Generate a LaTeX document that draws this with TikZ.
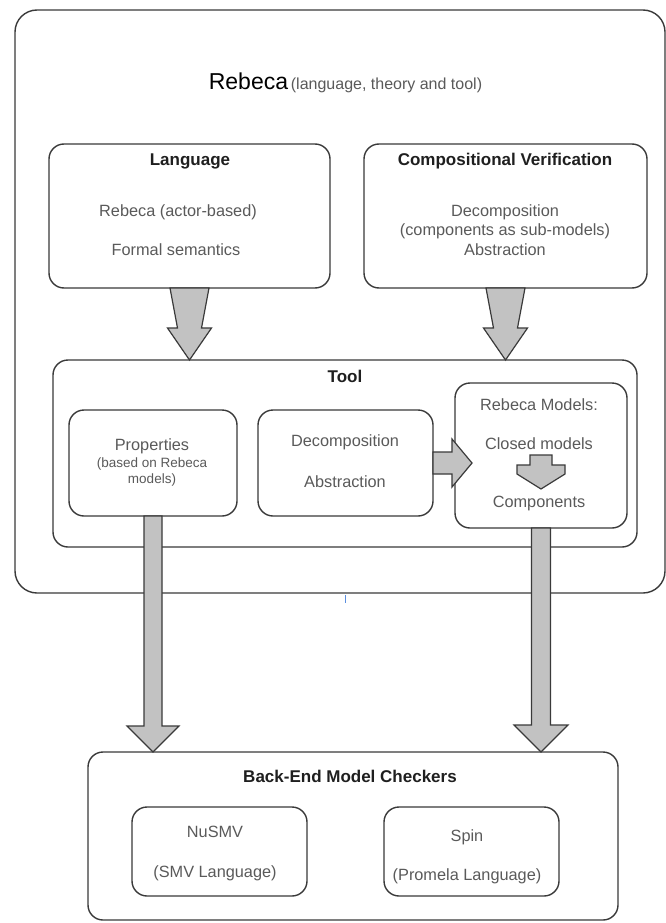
\documentclass[tikz,border=0pt]{standalone}
\usepackage{fontspec}
\setmainfont{Liberation Sans}
\usetikzlibrary{calc}
\definecolor{edge}{HTML}{3A3A3A}
\definecolor{txtgray}{HTML}{5A5A5A}
\definecolor{arrowfill}{HTML}{C2C2C2}
\definecolor{tickblue}{HTML}{5B8FE0}

\begin{document}
\begin{tikzpicture}[x=1pt,y=-1pt,
  panel/.style={draw=edge, line width=1.4pt, rounded corners=15pt, fill=white,
    inner sep=0pt, outer sep=0pt},
  heading/.style={font=\fontsize{17}{20}\selectfont\bfseries, text=black!88},
  body/.style={font=\fontsize{16.3}{19}\selectfont, text=txtgray, inner sep=0pt},
  small/.style={font=\fontsize{13.5}{16}\selectfont, text=txtgray, inner sep=0pt},
  blk/.style={draw=edge, line width=1.2pt, fill=arrowfill, line join=miter}]

\useasboundingbox (0,0) rectangle (666,923);

% outer frame and title
\node[panel, rounded corners=22pt, minimum width=650pt, minimum height=583pt] (rebeca) at (340,301.5) {};
\node (title) at (345.5,83) {{\fontsize{23}{26}\selectfont Rebeca} {\fontsize{16}{19}\selectfont\color{txtgray}(language, theory and tool)}};

% language and compositional verification
\node[panel, minimum width=281pt, minimum height=144pt] (lang) at (189.5,216) {};
\node[heading] (langT) at (190,161) {Language};
\node[body] (langA) at (178,212) {Rebeca (actor-based)};
\node[body] (langB) at (176,250) {Formal semantics};

\node[panel, minimum width=283pt, minimum height=144pt] (comp) at (505.5,216) {};
\node[heading] (compT) at (505,161) {Compositional Verification};
\node[body] (compA) at (505,212) {Decomposition};
\node[body] (compB) at (505,231) {(components as sub-models)};
\node[body] (compC) at (505,250) {Abstraction};

% tool
\node[panel, minimum width=584pt, minimum height=187pt] (tool) at (345,453.5) {};
\node[heading] (toolT) at (345,376) {Tool};

\node[panel, minimum width=168pt, minimum height=106pt] (props) at (153,463) {};
\node[body] (propsA) at (152,446) {Properties};
\node[small] (propsB) at (152,464) {(based on Rebeca};
\node[small] (propsC) at (152,480) {models)};

\node[panel, minimum width=175pt, minimum height=106pt] (decomp) at (345.5,463) {};
\node[body] (decompA) at (345,442) {Decomposition};
\node[body] (decompB) at (345,482) {Abstraction};

\node[panel, minimum width=172pt, minimum height=145pt] (rm) at (541,455.5) {};
\node[body] (rmA) at (539,405) {Rebeca Models:};
\node[body] (closed) at (539,444) {Closed models};
\node[body] (comps) at (539,503) {Components};

% back-end model checkers
\node[panel, minimum width=530pt, minimum height=168pt] (back) at (353,836) {};
\node[heading] (backT) at (350,776) {Back-End Model Checkers};

\node[panel, minimum width=175pt, minimum height=89pt] (nusmv) at (219.5,851.5) {};
\node[body] (nusmvA) at (215,832) {NuSMV};
\node[body] (nusmvB) at (215,873) {(SMV Language)};

\node[panel, minimum width=175pt, minimum height=89pt] (spin) at (471.5,851.5) {};
\node[body] (spinA) at (467,837) {Spin};
\node[body] (spinB) at (467,876) {(Promela Language)};

% block arrows
\draw[blk] ($(lang.south)+(-19.5,0)$) -- ++(39,0) -- ++(-7.5,40) -- ++(10,0)
  -- ++(-22,32) -- ++(-22,-32) -- ++(10,0) -- cycle;
\draw[blk] ($(comp.south)+(-19.5,0)$) -- ++(39,0) -- ++(-7.5,40) -- ++(10,0)
  -- ++(-22,32) -- ++(-22,-32) -- ++(10,0) -- cycle;

\draw[blk] ($(decomp.east)+(0,-11)$) -- ++(19,0) -- ++(0,-13) -- ++(20,24)
  -- ++(-20,24) -- ++(0,-13) -- ++(-19,0) -- cycle;

\coordinate (flow) at (541,455);
\draw[blk] ($(flow)+(-11,0)$) -- ++(22,0) -- ++(0,10) -- ++(13,0) -- ++(0,9)
  -- ++(-24,15) -- ++(-24,-15) -- ++(0,-9) -- ++(13,0) -- cycle;

\draw[blk] ($(props.south)+(-9,0)$) -- ++(18,0) -- ++(0,210) -- ++(17,0)
  -- ++(-26,26) -- ++(-26,-26) -- ++(17,0) -- cycle;
\draw[blk] ($(rm.south)+(-9.5,0)$) -- ++(19,0) -- ++(0,197) -- ++(17.5,0)
  -- ++(-27,27) -- ++(-27,-27) -- ++(17.5,0) -- cycle;

% small blue mark under the frame
\draw[tickblue, line width=1pt] (345,595) -- (345,603);
\end{tikzpicture}
\end{document}
